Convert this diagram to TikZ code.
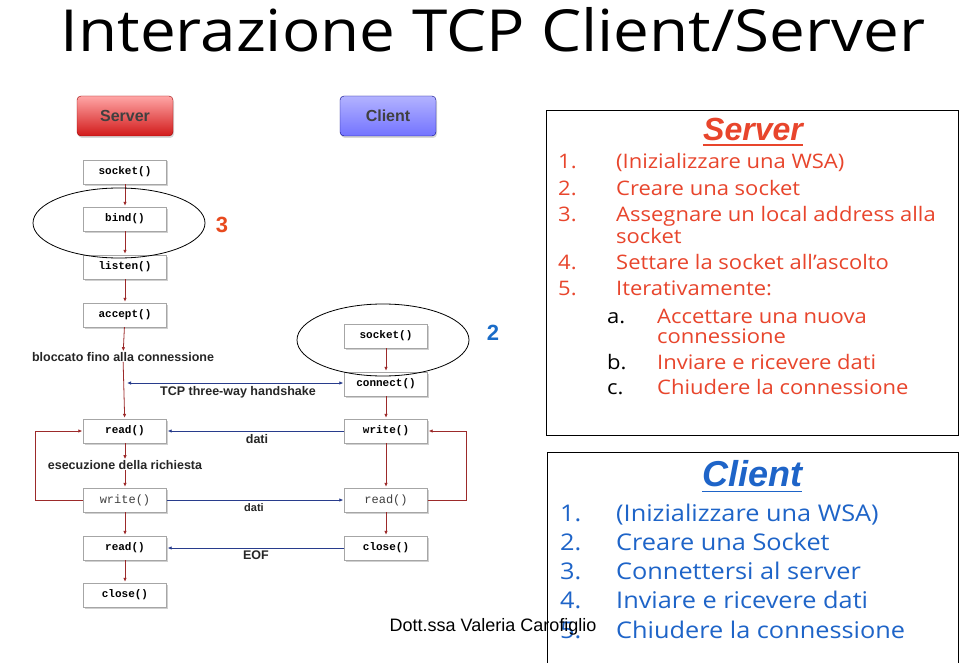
\documentclass[tikz,border=0pt]{standalone}
\usepackage{fontspec}
\setmainfont{Liberation Sans}
\newfontfamily\monof{Liberation Mono}
\newfontfamily\listf[FakeStretch=1.1]{Open Sans}
\usetikzlibrary{arrows.meta,shadows}
\definecolor{arrred}{HTML}{9C2A2A}
\definecolor{arrblue}{HTML}{283C8C}
\definecolor{listred}{HTML}{E8452C}
\definecolor{listblue}{HTML}{1E64C8}
\definecolor{numblue}{HTML}{1A6CC8}
\definecolor{numred}{HTML}{E84A1E}
\tikzset{
  fnbox/.style={draw=gray!70, fill=white, minimum width=83pt, minimum height=24pt, inner sep=0pt,
    font=\monof\bfseries\fontsize{11}{11}\selectfont,
    drop shadow={shadow xshift=1pt, shadow yshift=-1.5pt, fill=gray!60, opacity=0.6}},
  fnlight/.style={fnbox, font=\monof\fontsize{12}{12}\selectfont, text=gray!50!black},
  lbl/.style={font=\bfseries\fontsize{12.5}{12.5}\selectfont, text=black!85, inner sep=0pt},
  redarr/.style={draw=arrred, line width=0.8pt, -{Latex[length=4pt,width=3.5pt]}, shorten >=1pt},
  bluearr/.style={draw=arrblue, line width=0.8pt, -{Latex[length=4pt,width=3.5pt]}, shorten >=1pt},
  btn/.style={rounded corners=4pt, minimum width=96pt, minimum height=40pt, inner sep=0pt,
    font=\bfseries\fontsize{16}{16}\selectfont, text=black!75,
    drop shadow={shadow xshift=1pt, shadow yshift=-2pt, fill=gray!50, opacity=0.6}},
  srvtxt/.style={anchor=base west, inner sep=0pt, text=listred, font=\listf\fontsize{20}{20}\selectfont},
  srvnum/.style={srvtxt},
  srvlet/.style={srvtxt, text=black},
  clitxt/.style={anchor=base west, inner sep=0pt, text=listblue, font=\listf\fontsize{23}{23}\selectfont},
  hdr/.style={inner sep=0pt, font=\bfseries\itshape\fontsize{32}{32}\selectfont},
  ell/.style={draw=black, line width=0.8pt},
}
\begin{document}
\begin{tikzpicture}[x=1pt,y=-1pt]
\useasboundingbox (0,0) rectangle (960,663);
\fill[white] (0,0) rectangle (960,663);

% title
\node[font=\listf\fontsize{58}{58}\selectfont, inner sep=0pt] (title) at (493,30) {Interazione TCP Client/Server};

% buttons
\node[btn, top color=red!35!white, bottom color=red!80!black!90, draw=red!60!black] (srvbtn) at (125,116) {Server};
\node[btn, top color=blue!30!white, bottom color=blue!55!white, draw=blue!50!black] (clibtn) at (388,116) {Client};

% server column
\node[fnbox] (ssock) at (125,172) {socket()};
\node[fnbox] (sbind) at (125,219) {bind()};
\node[fnbox] (slisten) at (125,267) {listen()};
\node[fnbox] (saccept) at (125,315) {accept()};
\node[lbl] (blocked) at (123,357) {bloccato fino alla connessione};
\node[fnbox] (sread1) at (125,431) {read()};
\node[lbl] (exec) at (125,465) {esecuzione della richiesta};
\node[fnlight] (swrite) at (125,500) {write()};
\node[fnbox] (sread2) at (125,548) {read()};
\node[fnbox] (sclose) at (125,595) {close()};

% client column
\node[fnbox] (csock) at (386,336) {socket()};
\node[fnbox] (cconn) at (386,384) {connect()};
\node[fnbox] (cwrite) at (386,431) {write()};
\node[fnlight] (cread) at (386,500) {read()};
\node[fnbox] (cclose) at (386,548) {close()};

% server arrows
\draw[redarr] (ssock) -- (sbind);
\draw[redarr] (sbind) -- (slisten);
\draw[redarr] (slisten) -- (saccept);
\draw[redarr] (saccept) -- (blocked);
\draw[redarr] (blocked) -- (sread1);
\draw[redarr] (sread1) -- (exec);
\draw[redarr] (exec) -- (swrite);
\draw[redarr] (swrite) -- (sread2);
\draw[redarr] (sread2) -- (sclose);
\draw[redarr] (swrite.west) -- ++(-48,0) |- (sread1.west);

% client arrows
\draw[redarr] (csock) -- (cconn);
\draw[redarr] (cconn) -- (cwrite);
\draw[redarr] (cwrite) -- (cread);
\draw[redarr] (cread) -- (cclose);
\draw[redarr] (cread.east) -- ++(39,0) |- (cwrite.east);

% exchanges
\coordinate (hsl) at (127,383);
\draw[bluearr, {Latex[length=4pt,width=3.5pt]}-{Latex[length=4pt,width=3.5pt]}] (hsl) -- (cconn.west |- hsl);
\node[lbl] (hslbl) at (238,392) {TCP three-way handshake};
\draw[bluearr] (cwrite.west) -- (sread1.east);
\node[lbl] (dati1) at (257,439) {dati};
\draw[bluearr] (swrite.east) -- (cread.west);
\node[lbl, font=\bfseries\fontsize{11}{11}\selectfont] (dati2) at (254,508) {dati};
\draw[bluearr] (cclose.west) -- (sread2.east);
\node[lbl] (eof) at (256,555) {EOF};

% ellipses and numbers
\draw[ell] (119,223) ellipse [x radius=86pt, y radius=35pt];
\draw[ell] (383,340) ellipse [x radius=86pt, y radius=36pt];
\node[font=\bfseries\fontsize{22}{22}\selectfont, text=numred] (n3) at (222,225) {3};
\node[font=\bfseries\fontsize{22}{22}\selectfont, text=numblue] (n2) at (493,333) {2};

% server box
\node[draw=black, line width=0.9pt, minimum width=412pt, minimum height=325pt, inner sep=0pt] (srvbox) at (752,272.5) {};
\node[hdr, text=listred] (srvhdr) at (753,129) {Server};
\draw[listred, line width=1.2pt] ([yshift=-5pt]srvhdr.base west) -- ([yshift=-5pt]srvhdr.base east);
\node[srvnum] (s1n) at (558,169) {1.};
\node[srvtxt] (s1) at (616,169) {(Inizializzare una WSA)};
\node[srvnum] (s2n) at (558,195) {2.};
\node[srvtxt] (s2) at (616,195) {Creare una socket};
\node[srvnum] (s3n) at (558,221) {3.};
\node[srvtxt] (s3) at (616,221) {Assegnare un local address alla};
\node[srvtxt] (s3b) at (616,243) {socket};
\node[srvnum] (s4n) at (558,269) {4.};
\node[srvtxt] (s4) at (616,269) {Settare la socket all’ascolto};
\node[srvnum] (s5n) at (558,295) {5.};
\node[srvtxt] (s5) at (616,295) {Iterativamente:};
\node[srvlet] (sa) at (607,323) {a.};
\node[srvtxt] (sat) at (657,323) {Accettare una nuova};
\node[srvtxt] (sat2) at (657,343) {connessione};
\node[srvlet] (sb) at (607,369) {b.};
\node[srvtxt] (sbt) at (657,369) {Inviare e ricevere dati};
\node[srvlet] (sc) at (607,394) {c.};
\node[srvtxt] (sct) at (657,394) {Chiudere la connessione};

% client box
\draw[black, line width=0.9pt] (547,670) -- (547,452) -- (958,452) -- (958,670);
\node[hdr, text=listblue, font=\bfseries\itshape\fontsize{36}{36}\selectfont] (clihdr) at (752,474) {Client};
\draw[listblue, line width=1.2pt] ([yshift=-5pt]clihdr.base west) -- ([yshift=-5pt]clihdr.base east);
\node[clitxt] (c1n) at (560,521) {1.};
\node[clitxt] (c1) at (616,521) {(Inizializzare una WSA)};
\node[clitxt] (c2n) at (560,550) {2.};
\node[clitxt] (c2) at (616,550) {Creare una Socket};
\node[clitxt] (c3n) at (560,579) {3.};
\node[clitxt] (c3) at (616,579) {Connettersi al server};
\node[clitxt] (c4n) at (560,608) {4.};
\node[clitxt] (c4) at (616,608) {Inviare e ricevere dati};
\node[clitxt] (c5n) at (560,638) {5.};
\node[clitxt] (c5) at (616,638) {Chiudere la connessione};

% footer
\node[font=\fontsize{18}{18}\selectfont, inner sep=0pt] (author) at (493,627) {Dott.ssa Valeria Carofiglio};
\end{tikzpicture}
\end{document}
